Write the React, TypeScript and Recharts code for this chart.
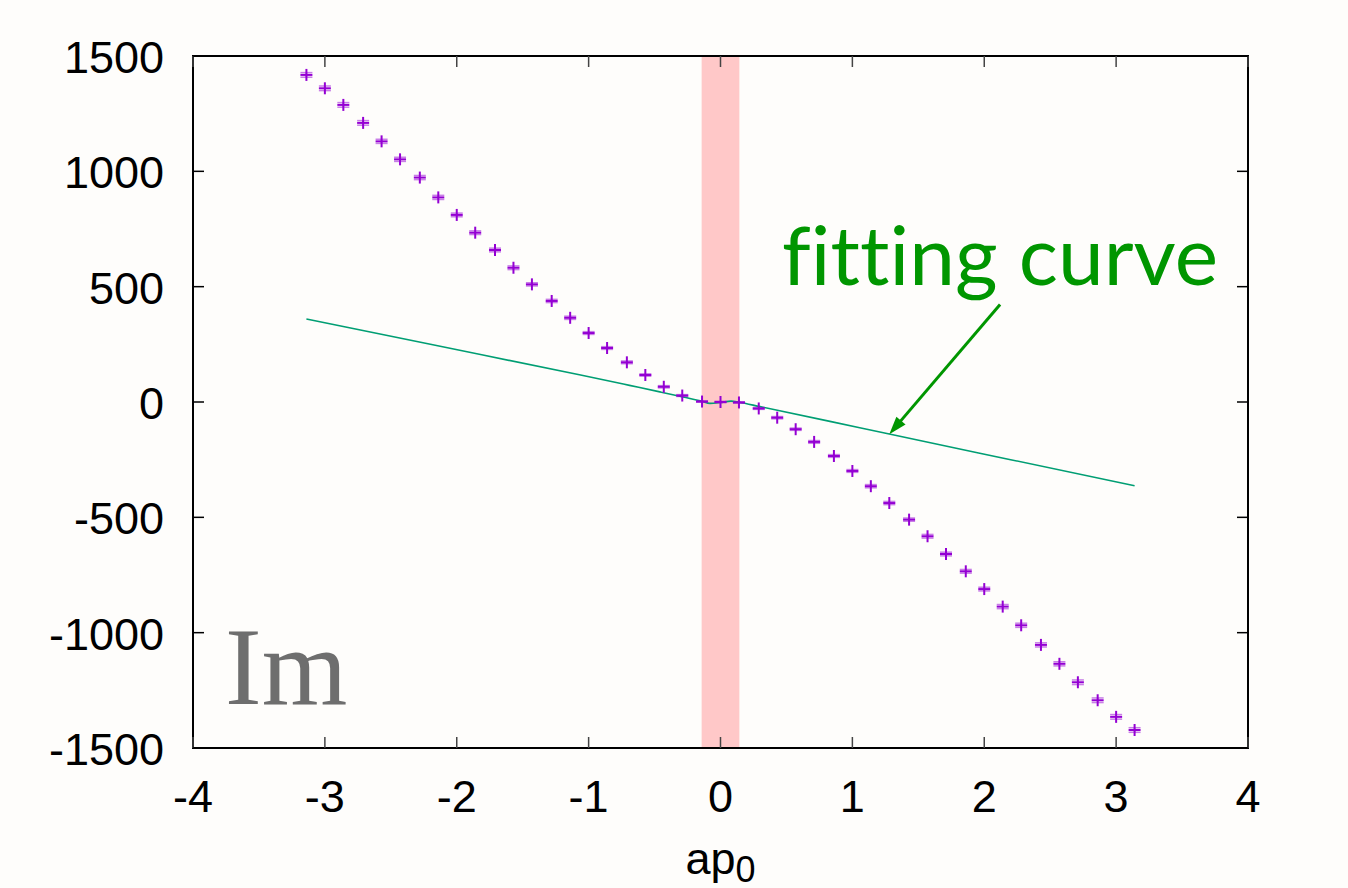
import React from 'react';
import { ComposedChart, Scatter, Line, XAxis, YAxis, ReferenceArea, ReferenceLine, ErrorBar } from 'recharts';

// lattice momentum values (45 points between -pi and pi)
const pointX = [
  -3.14, -3.0, -2.86, -2.71, -2.57, -2.43, -2.28, -2.14, -2.0, -1.86, -1.71, -1.57, -1.43, -1.28, -1.14,
  -1.0, -0.86, -0.71, -0.57, -0.43, -0.29, -0.14, 0, 0.14, 0.29, 0.43, 0.57, 0.71, 0.86, 1.0,
  1.14, 1.28, 1.43, 1.57, 1.71, 1.86, 2.0, 2.14, 2.28, 2.43, 2.57, 2.71, 2.86, 3.0, 3.14,
];
const pointY = [
  1418, 1360, 1288, 1210, 1130, 1052, 973, 887, 811, 734, 659, 582, 510, 438, 365,
  299, 234, 172, 117, 66, 28, 2, 0, -2, -28, -68, -118, -173, -234, -299,
  -365, -438, -510, -582, -659, -734, -811, -887, -968, -1053, -1135, -1215, -1293, -1365, -1422,
];
const pointErr = [
  10, 10, 10, 10, 9, 9, 9, 9, 8, 8, 8, 8, 7, 7, 7,
  6, 6, 6, 5, 5, 4, 3, 3, 3, 4, 5, 5, 6, 6, 6,
  7, 7, 7, 8, 8, 8, 8, 9, 9, 9, 9, 10, 10, 10, 10,
];

const fitX = [-3.14, -2.2, -1.07, -0.69, -0.46, -0.3, -0.14, -0.08, 0, 0.08, 0.14, 0.3, 0.83, 1.28, 2.2, 3.14];
const fitY = [360, 250, 118, 72, 44, 24, 3, -6, -2, 4, -1, -20, -84, -139, -250, -363];

const xTicks = [-4, -3, -2, -1, 0, 1, 2, 3, 4];
const yTicks = [-1500, -1000, -500, 0, 500, 1000, 1500];
const band = [-0.143, 0.143];
const arrowFrom = { x: 2.12, y: 423 };
const arrowTo = { x: 1.28, y: -140 };

const VIOLET = '#9400d3';
const TEAL = '#009e73';
const GREEN = '#009600';
const BG = '#fefdfb';
const FONT = '"Liberation Sans", Arial, sans-serif';

const points = pointX.map((x, i) => ({ x, y: pointY[i], err: pointErr[i] }));
const fitData = fitX.map((x, i) => ({ x, y: fitY[i] }));

const PlusMark = (props: any) => {
  const { cx, cy } = props;
  return (
    <g>
      <line x1={cx - 6} x2={cx + 6} y1={cy} y2={cy} stroke={VIOLET} strokeWidth={2} />
      <line x1={cx} x2={cx} y1={cy - 6} y2={cy + 6} stroke={VIOLET} strokeWidth={2} />
    </g>
  );
};

const BottomTick = (props: any) => {
  const { x, y, payload } = props;
  return (
    <g>
      <line x1={x} x2={x} y1={y} y2={y - 11} stroke="#444" strokeWidth={1.5} />
      <text x={x} y={y + 64} textAnchor="middle" fontFamily={FONT} fontSize={45} fill="#000">
        {payload.value}
      </text>
    </g>
  );
};

const TopTick = (props: any) => {
  const { x, y } = props;
  return <line x1={x} x2={x} y1={y} y2={y + 11} stroke="#444" strokeWidth={1.5} />;
};

const LeftTick = (props: any) => {
  const { x, y, payload } = props;
  return (
    <g>
      <line x1={x} x2={x + 11} y1={y} y2={y} stroke="#000" strokeWidth={1.5} />
      <text x={x - 29} y={y + 17} textAnchor="end" fontFamily={FONT} fontSize={45} fill="#000">
        {payload.value}
      </text>
    </g>
  );
};

const RightTick = (props: any) => {
  const { x, y } = props;
  return <line x1={x} x2={x - 11} y1={y} y2={y} stroke="#000" strokeWidth={1.5} />;
};

const XLabel = (props: any) => {
  const vb = props.viewBox;
  return (
    <text x={vb.x + vb.width / 2} y={vb.y + 126} textAnchor="middle" fontFamily={FONT} fontSize={45} fill="#000">
      ap<tspan fontSize={36} dy={8}>0</tspan>
    </text>
  );
};

const Arrow = (props: any) => {
  const { x1, y1, x2, y2 } = props;
  const len = Math.hypot(x2 - x1, y2 - y1);
  const ux = (x2 - x1) / len;
  const uy = (y2 - y1) / len;
  const head = 18;
  const half = 6;
  const bx = x2 - ux * head;
  const by = y2 - uy * head;
  return (
    <g>
      <line x1={x1} y1={y1} x2={bx + ux * 4} y2={by + uy * 4} stroke={GREEN} strokeWidth={3} />
      <polygon
        points={`${x2},${y2} ${bx - uy * half},${by + ux * half} ${bx + uy * half},${by - ux * half}`}
        fill={GREEN}
      />
      <text
        x={x1 - 218}
        y={y1 - 19}
        fontFamily="Lato, sans-serif"
        fontSize={82}
        fill={GREEN}
        textLength={436}
        lengthAdjust="spacing"
        style={{ fontVariantLigatures: 'none' }}
      >
        fitting curve
      </text>
    </g>
  );
};

export default function App() {
  return (
    <div style={{ position: 'absolute', left: 0, top: 0, width: 1348, height: 888, background: BG }}>
      <ComposedChart width={1348} height={888} margin={{ top: 55, right: 99, bottom: 80, left: 113 }}>
        <XAxis
          dataKey="x"
          type="number"
          domain={[-4, 4]}
          ticks={xTicks}
          allowDataOverflow
          height={60}
          tickSize={0}
          tickMargin={0}
          tickLine={false}
          axisLine={{ stroke: '#000', strokeWidth: 2 }}
          tick={BottomTick}
          label={{ content: XLabel }}
        />
        <XAxis
          xAxisId="top"
          orientation="top"
          dataKey="x"
          type="number"
          domain={[-4, 4]}
          ticks={xTicks}
          allowDataOverflow
          height={1}
          tickSize={0}
          tickMargin={0}
          tickLine={false}
          axisLine={{ stroke: '#000', strokeWidth: 2 }}
          tick={TopTick}
        />
        <YAxis
          type="number"
          domain={[-1500, 1500]}
          ticks={yTicks}
          allowDataOverflow
          width={80}
          tickSize={0}
          tickMargin={0}
          tickLine={false}
          axisLine={{ stroke: '#000', strokeWidth: 2 }}
          tick={LeftTick}
        />
        <YAxis
          yAxisId="right"
          orientation="right"
          type="number"
          domain={[-1500, 1500]}
          ticks={yTicks}
          allowDataOverflow
          width={1}
          tickSize={0}
          tickMargin={0}
          tickLine={false}
          axisLine={{ stroke: '#000', strokeWidth: 2 }}
          tick={RightTick}
        />
        <ReferenceArea x1={band[0]} x2={band[1]} y1={-1500} y2={1500} fill="#ffc8c8" fillOpacity={1} stroke="none" />
        <ReferenceArea x1={-4} x2={4} y1={-1500} y2={1500} fill="none" stroke="#000" strokeWidth={2} />
        <Line
          data={fitData}
          dataKey="y"
          xAxisId="top"
          yAxisId="right"
          type="monotone"
          stroke={TEAL}
          strokeWidth={1.6}
          dot={false}
          isAnimationActive={false}
        />
        <Scatter data={points} dataKey="y" shape={PlusMark} isAnimationActive={false}>
          <ErrorBar dataKey="err" direction="y" width={6} stroke={VIOLET} strokeOpacity={0.5} strokeWidth={1.5} />
        </Scatter>
        <ReferenceLine segment={[arrowFrom, arrowTo]} shape={Arrow} stroke={GREEN} />
      </ComposedChart>
      <svg width={1348} height={888} style={{ position: 'absolute', left: 0, top: 0, pointerEvents: 'none' }}>
        <text x={225} y={704} fontFamily='"Liberation Serif", serif' fontSize={110} fill="#6e6e6e">
          Im
        </text>
      </svg>
    </div>
  );
}
